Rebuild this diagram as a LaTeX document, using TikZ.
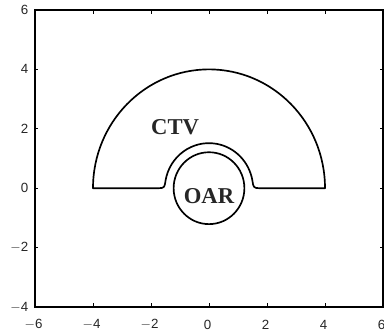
\documentclass[tikz,border=0pt]{standalone}
\usepackage{fontspec}
\setmainfont{Liberation Serif}
\newfontfamily\axisfont{Liberation Sans}
\begin{document}
\begin{tikzpicture}[x=21.75pt,y=22.275pt,
  roiline/.style={line width=1.25pt,black},
  frame/.style={line width=1.5pt,black},
  ticklab/.style={font=\axisfont\fontsize{10}{12}\selectfont,text=black!85,inner sep=0.5pt},
  roilab/.style={font=\bfseries\fontsize{17}{19}\selectfont,text=black!85}]
\useasboundingbox (-7.207,-4.95) rectangle (6.034,6.336);
% frame
\draw[frame] (-6,-4) rectangle (6,6);
% ticks
\foreach \x in {-4,-2,0,2,4}{
  \draw[line width=0.6pt] (\x,-4) -- (\x,-3.88);
  \draw[line width=0.6pt] (\x,6) -- (\x,5.88);
}
\foreach \y in {-2,0,2,4}{
  \draw[line width=0.6pt] (-6,\y) -- (-5.88,\y);
  \draw[line width=0.6pt] (6,\y) -- (5.88,\y);
}
% tick labels
\foreach \x/\t in {-6/$-$6,-4/$-$4,-2/$-$2,0/0,2/2,4/4,6/6}{
  \node[ticklab] (xl\x) at (\x-0.05,-4.6) {\t};
}
\foreach \y/\t in {-4/$-$4,-2/$-$2,0/0,2/2,4/4,6/6}{
  \node[ticklab,anchor=east] (yl\y) at (-6.2,\y) {\t};
}
% CTV region
\draw[roiline,line join=round] (-4,0) -- (-1.72,0)
  .. controls (-1.53,0) and (-1.53,0.05) .. (-1.5,0.25)
  arc[start angle=170.4,end angle=9.6,radius=1.52]
  .. controls (1.53,0.05) and (1.53,0) .. (1.72,0)
  -- (4,0) arc[start angle=0,end angle=180,radius=4] -- cycle;
% OAR
\draw[roiline] (0,0) circle[x radius=1.22, y radius=1.21];
\node[roilab] (ctv) at (-1.17,2.07) {CTV};
\node[roilab] (oar) at (0,-0.26) {OAR};
\end{tikzpicture}
\end{document}
